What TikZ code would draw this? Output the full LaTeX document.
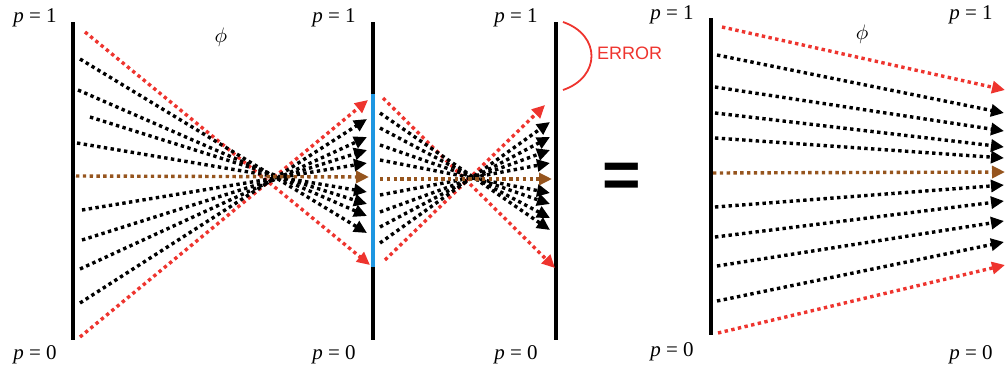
\documentclass[tikz,border=0pt]{standalone}
\usepackage{fontspec}
\usetikzlibrary{arrows.meta}
\newfontfamily\errfont{Liberation Sans}
\newfontfamily\lsf{Liberation Serif}
\definecolor{rayred}{RGB}{238,52,46}
\definecolor{raybrown}{RGB}{150,85,30}
\definecolor{barblue}{RGB}{30,150,225}
\newcommand{\plab}[1]{{\lsf\fontsize{21}{24}\selectfont #1}}
\newcommand{\philab}{\scalebox{2.1}{$\phi$}}
\begin{document}
\begin{tikzpicture}[x=1pt,y=-1pt,
  bar/.style={line width=4pt, black},
  ray/.style={line width=3.4pt, dash pattern=on 3.4pt off 3.4pt, -{Triangle[length=13pt,width=12pt]}},
  lbl/.style={inner sep=0pt},
  errtxt/.style={font=\errfont\fontsize{18}{20}\selectfont, text=rayred, inner sep=0pt, anchor=west},
]
\useasboundingbox (0,0) rectangle (1007,368);
% bars
\coordinate (b1t) at (73,22);  \coordinate (b1b) at (73,340);
\coordinate (b2t) at (373,22); \coordinate (b2b) at (373,340);
\coordinate (b2u) at (373,94); \coordinate (b2l) at (373,267);
\coordinate (b3t) at (556,22); \coordinate (b3b) at (556,340);
\coordinate (b4t) at (711,18); \coordinate (b4b) at (711,335);
\draw[bar] (b1t) -- (b1b);
\draw[bar] (b2t) -- (b2b);
\draw[bar, barblue] (b2u) -- (b2l);
\draw[bar] (b3t) -- (b3b);
\draw[bar] (b4t) -- (b4b);
% rays
\foreach \i/\xa/\ya/\xb/\yb/\c in {
 a1/85/32/370/265/rayred, a2/80/337/368/100/rayred,
 a3/80/59/367/233/black, a4/78/90/367/216/black, a5/90/117/367/204/black, a6/77/143/367/192/black,
 a7/82/210/367/163/black, a8/82/240/367/150/black, a9/80/269/367/137/black, a10/80/303/367/119/black,
 a11/76/176/369/177/raybrown,
 b1/383/98/555/268/rayred, b2/385/260/545/105/rayred,
 b3/380/113/550/230/black, b4/380/128/550/218/black, b5/380/145/550/204/black, b6/380/160/550/193/black,
 b7/380/195/550/163/black, b8/380/212/550/150/black, b9/380/227/550/137/black, b10/380/243/550/122/black,
 b11/380/179/552/179/raybrown,
 c1/722/27/1005/90/rayred, c2/718/333/1005/265/rayred,
 c3/717/55/1004/113/black, c4/715/87/1004/131/black, c5/715/113/1004/147/black, c6/715/138/1004/158/black,
 c7/715/207/1004/185/black, c8/715/237/1004/201/black, c9/717/266/1004/221/black, c10/717/301/1004/242/black,
 c11/713/173/1005/172/raybrown}
{
  \coordinate (s\i) at (\xa,\ya);
  \coordinate (e\i) at (\xb,\yb);
  \draw[ray, color=\c] (s\i) -- (e\i);
}
% labels
\node[lbl] (l1t) at (35,18) {\plab{\textit{p} = 1}};
\node[lbl] (l1b) at (35,355) {\plab{\textit{p} = 0}};
\node[lbl] (l2t) at (334,18) {\plab{\textit{p} = 1}};
\node[lbl] (l2b) at (334,355) {\plab{\textit{p} = 0}};
\node[lbl] (l3t) at (516,18) {\plab{\textit{p} = 1}};
\node[lbl] (l3b) at (516,355) {\plab{\textit{p} = 0}};
\node[lbl] (l4t) at (672,15) {\plab{\textit{p} = 1}};
\node[lbl] (l4b) at (672,352) {\plab{\textit{p} = 0}};
\node[lbl] (l5t) at (971,15) {\plab{\textit{p} = 1}};
\node[lbl] (l5b) at (971,355) {\plab{\textit{p} = 0}};
\node[lbl] (phi1) at (221,37) {\philab};
\node[lbl] (phi2) at (862,34) {\philab};
% error
\coordinate (r1) at (563,22); \coordinate (r2) at (563,90);
\draw[rayred, line width=1.8pt] (r1) .. controls (601,35) and (601,77) .. (r2);
\node[errtxt] (err) at (597,53) {ERROR};
% equals
\node[font=\errfont\bfseries\fontsize{66}{66}\selectfont, inner sep=0pt] (eq) at (622,180) {=};
\end{tikzpicture}
\end{document}
